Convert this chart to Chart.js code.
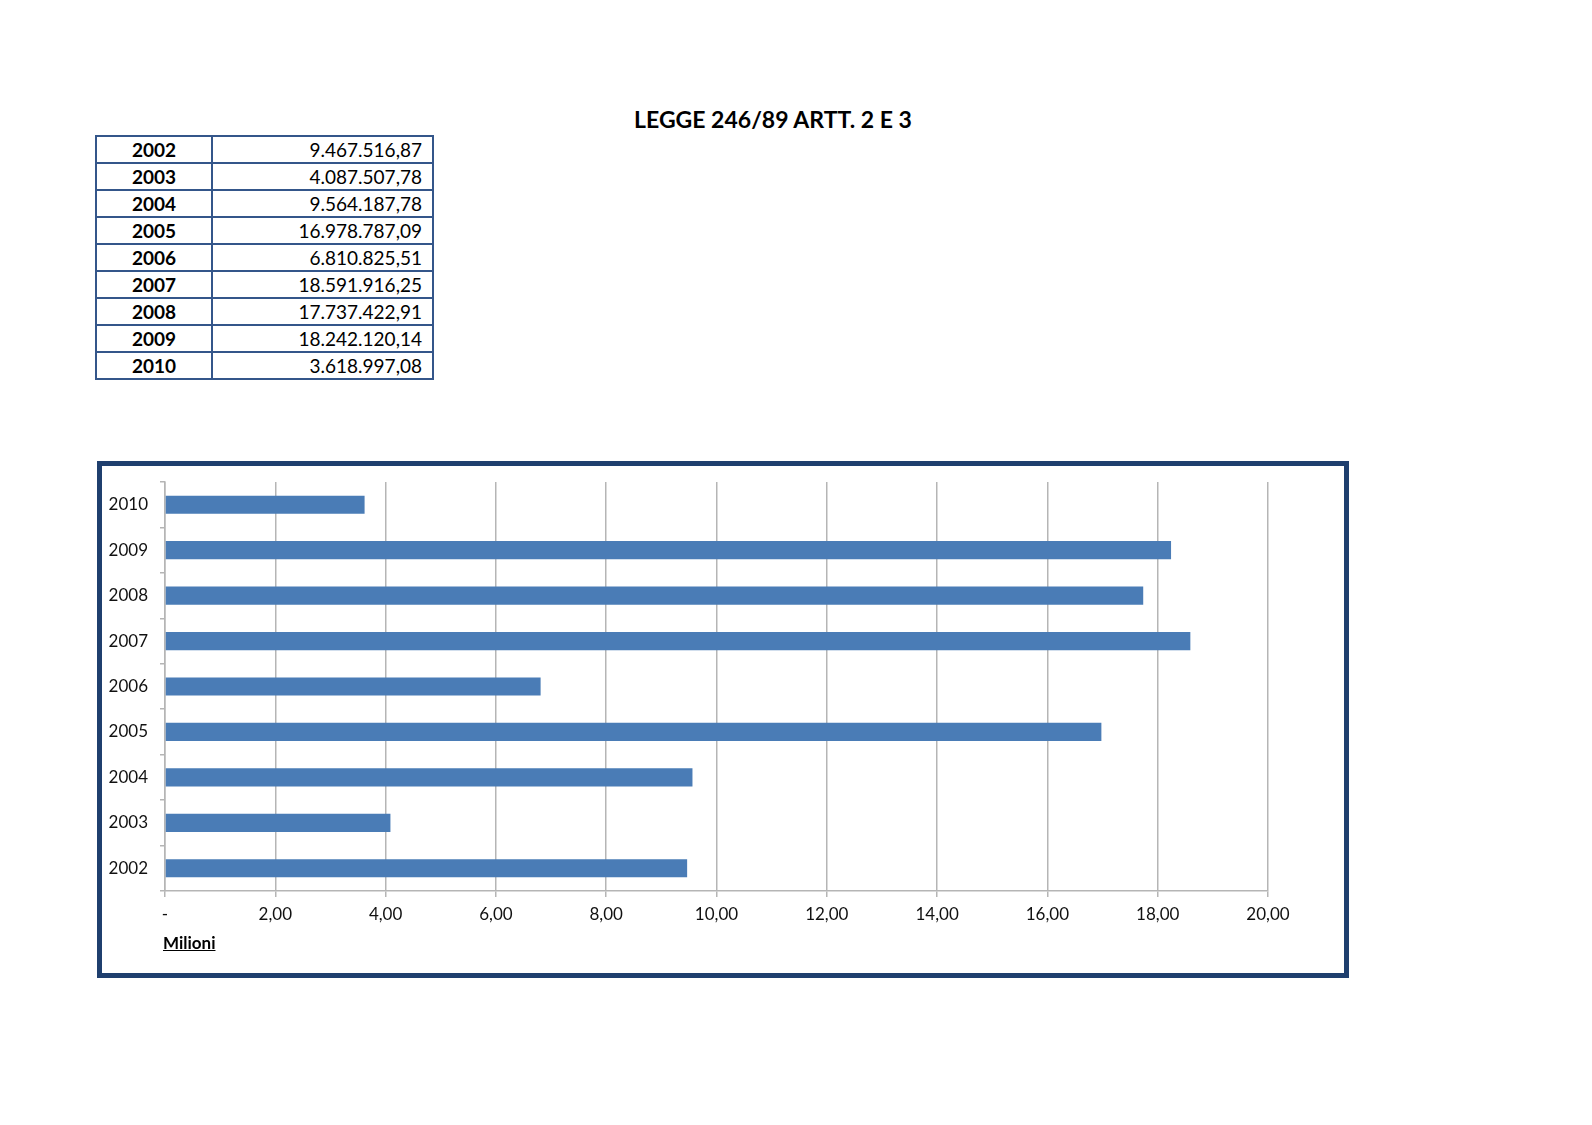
<!DOCTYPE html>
<html>
<head>
<meta charset="utf-8">
<script src="https://cdn.jsdelivr.net/npm/chart.js@4"></script>
<style>
  html, body { margin: 0; padding: 0; background: #fff; }
  body { width: 1592px; height: 1125px; position: relative; font-family: Lato, "Open Sans", sans-serif; color: #000; }
  #title { position: absolute; left: 0; width: 1546px; top: 105px; text-align: center; font-weight: bold; font-size: 23px; }
  #tbl { position: absolute; left: 95px; top: 135px; border-collapse: collapse; font-size: 19px; }
  #tbl td { border: 2px solid #34568a; height: 25px; padding: 0 10px; line-height: 25px; }
  #tbl td.y { width: 94px; text-align: center; font-weight: bold; }
  #tbl td.v { width: 199px; text-align: right; }
  #box { position: absolute; left: 97px; top: 461px; width: 1242px; height: 507px; border: 5px solid #1f3f6e; }
  #box canvas { position: absolute; left: 0; top: 0; }
  #unit { position: absolute; left: 61px; top: 466px; font-weight: bold; font-size: 17px; text-decoration: underline; }
</style>
</head>
<body>
<div id="title">LEGGE 246/89 ARTT. 2 E 3</div>
<table id="tbl"></table>
<div id="box">
  <canvas id="chart" width="1242" height="507"></canvas>
  <div id="unit">Milioni</div>
</div>
<script>
const years = ['2002', '2003', '2004', '2005', '2006', '2007', '2008', '2009', '2010'];
const amounts = [9467516.87, 4087507.78, 9564187.78, 16978787.09, 6810825.51, 18591916.25, 17737422.91, 18242120.14, 3618997.08];
const xTicks = [0, 2, 4, 6, 8, 10, 12, 14, 16, 18, 20];

// italian number format: 1.234.567,89
function fmt(n, dec) {
  const parts = n.toFixed(dec).split('.');
  const int = parts[0].replace(/\B(?=(\d{3})+(?!\d))/g, '.');
  return parts[1] ? int + ',' + parts[1] : int;
}

const tbl = document.getElementById('tbl');
years.forEach((y, i) => {
  const tr = document.createElement('tr');
  tr.innerHTML = '<td class="y">' + y + '</td><td class="v">' + fmt(amounts[i], 2) + '</td>';
  tbl.appendChild(tr);
});

const millions = amounts.map(v => v / 1e6);

new Chart(document.getElementById('chart'), {
  type: 'bar',
  data: {
    labels: years,
    datasets: [{
      data: millions,
      backgroundColor: '#4a7cb6',
      barPercentage: 0.4,
      categoryPercentage: 1,
    }],
  },
  options: {
    indexAxis: 'y',
    responsive: false,
    animation: false,
    layout: { padding: { top: 16, right: 76, left: 0, bottom: 0 } },
    plugins: { legend: { display: false }, tooltip: { enabled: false } },
    scales: {
      x: {
        min: 0,
        max: 20,
        afterBuildTicks: (scale) => { scale.ticks = xTicks.map(v => ({ value: v })); },
        afterFit: (scale) => {
          scale.height = 82;
          scale.paddingLeft = 0;
          scale.paddingRight = 0;
        },
        grid: { color: '#b5b5b5', lineWidth: 1.5, tickLength: 6 },
        border: { color: '#b5b5b5', width: 1.5 },
        ticks: {
          color: '#111',
          font: { family: 'Lato', size: 17 },
          padding: 7,
          maxRotation: 0,
          callback: (v) => v === 0 ? '-' : fmt(v, 2),
        },
      },
      y: {
        reverse: true,
        afterFit: (scale) => {
          scale.width = 63;
          scale.paddingTop = 0;
          scale.paddingBottom = 0;
        },
        grid: { offset: true, drawOnChartArea: false, color: '#b5b5b5', lineWidth: 1.5, tickLength: 5 },
        border: { color: '#b5b5b5', width: 1.5 },
        ticks: {
          color: '#111',
          font: { family: 'Lato', size: 17 },
          padding: 12,
        },
      },
    },
  },
});
</script>
</body>
</html>
